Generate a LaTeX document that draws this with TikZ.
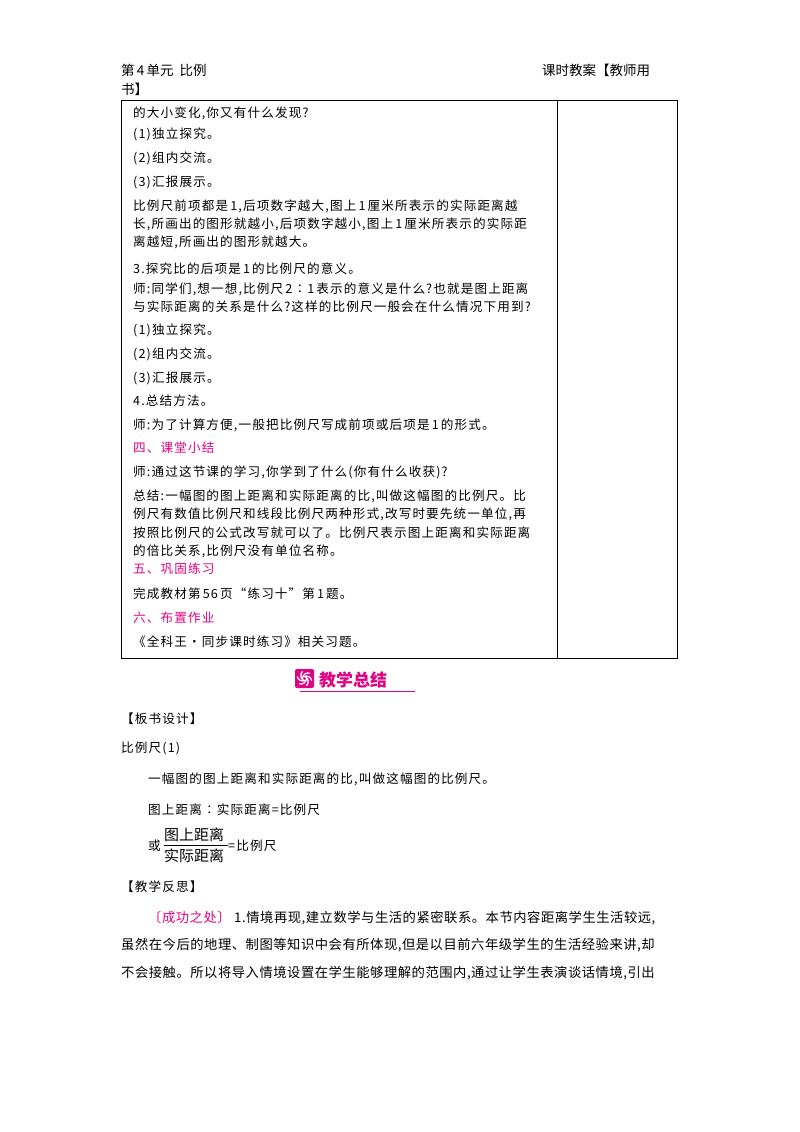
\documentclass[tikz,border=0pt]{standalone}
\usepackage{fontspec}
\usetikzlibrary{calc}
\setmainfont{Noto Sans CJK SC}
\newfontfamily\bodyspaced[LetterSpace=9]{Noto Sans CJK SC}
\newfontfamily\reflspaced[LetterSpace=4]{Noto Sans CJK SC}
\definecolor{mag}{RGB}{226,0,132}
\begin{document}
\begin{tikzpicture}[x=1pt,y=-1pt,
  tx/.style={anchor=base west,inner sep=0pt,font=\bodyspaced\fontsize{12.6}{18.5}\selectfont},
  rf/.style={anchor=base west,inner sep=0pt,font=\reflspaced\fontsize{13.3}{18.5}\selectfont},
  hd/.style={anchor=base west,inner sep=0pt,font=\fontsize{13.5}{16}\selectfont},
  mg/.style={tx,text=mag}]
\useasboundingbox (0,0) rectangle (800,1132);
\fill[white] (0,0) rectangle (800,1132);
\node[hd] (h1) at (121,75) {第\,4\,单元\ \ 比例};
\node[hd] (h2) at (542,75) {课时教案【教师用};
\node[hd] (h3) at (121,94) {书】};
\draw[line width=0.9pt] (121,100) rectangle (677,658);
\draw[line width=0.9pt] (557,100) -- (557,658);
\node[tx] (t1) at (133,117) {的大小变化,你又有什么发现?};
\node[tx] (t2) at (133,138) {(1)独立探究。};
\node[tx] (t3) at (133,162) {(2)组内交流。};
\node[tx] (t4) at (133,186) {(3)汇报展示。};
\node[tx] (t5a) at (133,210) {比例尺前项都是\,1,后项数字越大,图上\,1\,厘米所表示的实际距离越};
\node[tx] (t5b) at (133,228) {长,所画出的图形就越小,后项数字越小,图上\,1\,厘米所表示的实际距};
\node[tx] (t5c) at (133,246) {离越短,所画出的图形就越大。};
\node[tx] (t6) at (133,273) {3.探究比的后项是\,1\,的比例尺的意义。};
\node[tx] (t7a) at (133,293) {师:同学们,想一想,比例尺\,2∶1\,表示的意义是什么?也就是图上距离};
\node[tx] (t7b) at (133,311) {与实际距离的关系是什么?这样的比例尺一般会在什么情况下用到?};
\node[tx] (t8) at (133,334) {(1)独立探究。};
\node[tx] (t9) at (133,358) {(2)组内交流。};
\node[tx] (t10) at (133,382) {(3)汇报展示。};
\node[tx] (t11) at (133,405) {4.总结方法。};
\node[tx] (t12) at (133,429) {师:为了计算方便,一般把比例尺写成前项或后项是\,1\,的形式。};
\node[mg] (t13) at (133,452) {四、课堂小结};
\node[tx] (t14) at (133,476) {师:通过这节课的学习,你学到了什么(你有什么收获)?};
\node[tx] (t15a) at (133,500) {总结:一幅图的图上距离和实际距离的比,叫做这幅图的比例尺。比};
\node[tx] (t15b) at (133,518) {例尺有数值比例尺和线段比例尺两种形式,改写时要先统一单位,再};
\node[tx] (t15c) at (133,537) {按照比例尺的公式改写就可以了。比例尺表示图上距离和实际距离};
\node[tx] (t15d) at (133,555) {的倍比关系,比例尺没有单位名称。};
\node[mg] (t16) at (133,573) {五、巩固练习};
\node[tx] (t17) at (133,598) {完成教材第\,56\,页“练习十”第\,1\,题。};
\node[mg] (t18) at (133,622) {六、布置作业};
\node[tx] (t19) at (133,646) {《全科王·同步课时练习》相关习题。};
% badge
\fill[mag,rounded corners=2pt] (295,669) rectangle (314,688);
\foreach \a in {0,60,...,300}
  \draw[white,line width=1.3pt] ($(304.5,678.5)+(\a:2)$) arc[start angle=\a,end angle=\a+110,radius=5.5];
\node[anchor=base west,inner sep=0pt,text=mag,font=\fontsize{17}{18}\selectfont\bfseries] (bd) at (319,686) {教学总结};
\draw[mag,line width=0.8pt] (300,691) -- (415,691);
\node[tx] (b1) at (121,723) {【板书设计】};
\node[tx] (b2) at (121,752) {比例尺(1)};
\node[tx] (b3) at (148,783) {一幅图的图上距离和实际距离的比,叫做这幅图的比例尺。};
\node[tx] (b4) at (148,814) {图上距离∶实际距离=比例尺};
\node[tx] (b5) at (148,850) {或};
\node[rf,font=\fontsize{15}{16}\selectfont] (b6) at (164,840) {图上距离};
\draw[line width=0.6pt] (164,845) -- (228,845);
\node[rf,font=\fontsize{15}{16}\selectfont] (b7) at (164,861) {实际距离};
\node[tx] (b8) at (228,850) {=比例尺};
\node[tx] (b9) at (121,891) {【教学反思】};
\node[rf,text=mag] (r1) at (148,922) {〔成功之处〕};
\node[rf] (r2) at (234,922) {1.情境再现,建立数学与生活的紧密联系。本节内容距离学生生活较远,};
\node[rf] (r3) at (121,949) {虽然在今后的地理、制图等知识中会有所体现,但是以目前六年级学生的生活经验来讲,却};
\node[rf] (r4) at (121,977) {不会接触。所以将导入情境设置在学生能够理解的范围内,通过让学生表演谈话情境,引出};
\end{tikzpicture}
\end{document}
